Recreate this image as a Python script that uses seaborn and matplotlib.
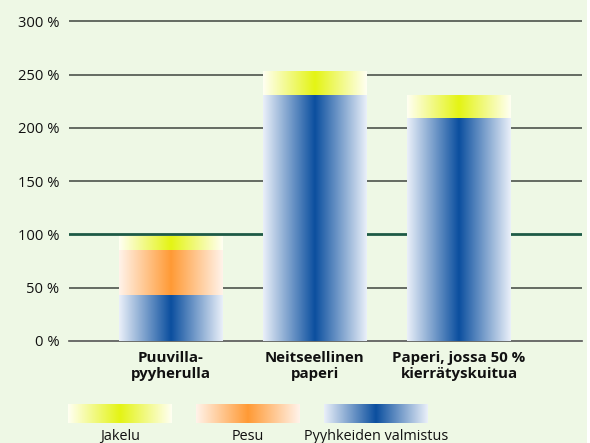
import numpy as np
import pandas as pd
import matplotlib
matplotlib.use("Agg")
import matplotlib.pyplot as plt
import seaborn as sns
from matplotlib.colors import LinearSegmentedColormap
from matplotlib.patches import Rectangle

# Data luettu kuvasta (prosentteina)
kategoriat = ["Puuvilla-\npyyherulla", "Neitseellinen\npaperi", "Paperi, jossa 50 %\nkierrätyskuitua"]
valmistus = [43, 231, 209]
pesu = [42, 0, 0]
jakelu = [13, 22, 21]
yticks = [0, 50, 100, 150, 200, 250, 300]
ytick_labels = [f"{v} %" for v in yticks]
sarjat = ["Jakelu", "Pesu", "Pyyhkeiden valmistus"]

bg = "#eef8e5"
gradientit = {
    "Pyyhkeiden valmistus": ["#eaf0f9", "#0b4f9f", "#eaf0f9"],
    "Pesu": ["#fff3ea", "#ff9a35", "#fff3ea"],
    "Jakelu": ["#fffff2", "#e4f414", "#fffff2"],
}
cmaps = {k: LinearSegmentedColormap.from_list(k, v) for k, v in gradientit.items()}
grad = np.linspace(0, 1, 256).reshape(1, -1)

plt.rcParams["font.family"] = ["Open Sans", "DejaVu Sans"]
plt.rcParams["text.color"] = "#111111"

df = pd.DataFrame({"kategoria": kategoriat, "valmistus": valmistus,
                   "pesu": pesu, "jakelu": jakelu})
df["pesu_yla"] = df["valmistus"] + df["pesu"]
df["yhteensa"] = df["pesu_yla"] + df["jakelu"]

fig = plt.figure(figsize=(5.9, 4.43), dpi=100)
fig.patch.set_facecolor("white")
fig.patches.append(Rectangle((0, 0), 587 / 590, 1, transform=fig.transFigure,
                             facecolor=bg, edgecolor="none", zorder=-10))
ax = fig.add_axes([69 / 590, 102 / 443, 513 / 590, 325 / 443])
ax.set_facecolor("none")

sns.barplot(data=df, x="kategoria", y="yhteensa", width=0.72, color=bg,
            errorbar=None, ax=ax, zorder=2)

# liukuvärit pinottuihin osiin
for i, p in enumerate(ax.patches[:len(df)]):
    x0, w = p.get_x(), p.get_width()
    p.set_visible(False)
    osat = [(0, df["valmistus"][i], "Pyyhkeiden valmistus"),
            (df["valmistus"][i], df["pesu_yla"][i], "Pesu"),
            (df["pesu_yla"][i], df["yhteensa"][i], "Jakelu")]
    for ala, yla, nimi in osat:
        if yla - ala <= 0:
            continue
        ax.imshow(grad, cmap=cmaps[nimi], aspect="auto",
                  extent=[x0, x0 + w, ala, yla], zorder=3)

for y in yticks[1:]:
    if y == 100:
        ax.axhline(y, color="#1d5a45", lw=2.0, zorder=1)
    else:
        ax.axhline(y, color="#3f453f", lw=1.1, zorder=1)

ax.set_xlim(-0.704, 2.853)
ax.set_ylim(0, 305)
ax.set_yticks(yticks)
ax.set_yticklabels(ytick_labels)
ax.set_xlabel("")
ax.set_ylabel("")
for s in ["top", "right", "left"]:
    ax.spines[s].set_visible(False)
ax.spines["bottom"].set_color("#555555")
ax.spines["bottom"].set_linewidth(1.2)
ax.tick_params(axis="y", length=0, pad=7, labelsize=10.6, labelcolor="#111111")
ax.tick_params(axis="x", length=0, pad=7, labelsize=10.8, labelcolor="#111111")
for t in ax.get_xticklabels():
    t.set_fontweight("bold")
    t.set_linespacing(1.25)

# selite
for i, nimi in enumerate(sarjat):
    vasen = 68 + i * 128
    lax = fig.add_axes([vasen / 590, 20 / 443, 104 / 590, 19 / 443])
    lax.imshow(grad, cmap=cmaps[nimi], aspect="auto")
    lax.axis("off")
    fig.text((vasen + 52) / 590, 14 / 443, nimi, ha="center", va="top", fontsize=10.4)

fig.savefig("out.png", dpi=100, facecolor=fig.get_facecolor())
